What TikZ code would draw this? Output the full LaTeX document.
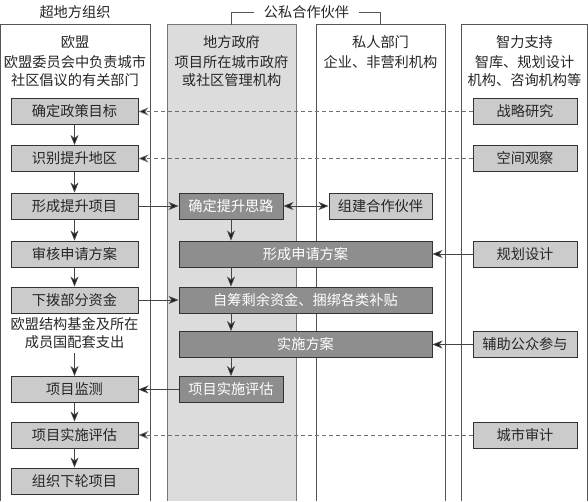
\documentclass[tikz,border=0pt]{standalone}
\usepackage{fontspec}
\setmainfont{Noto Sans CJK SC}
\usetikzlibrary{arrows.meta}
\definecolor{colborder}{HTML}{555555}
\definecolor{colfill}{HTML}{DCDCDC}
\definecolor{lightbox}{HTML}{CBCBCB}
\definecolor{darkbox}{HTML}{8E8E8E}
\definecolor{boxline}{HTML}{333333}
\definecolor{arrline}{HTML}{444444}
\definecolor{dashline}{HTML}{707070}
\begin{document}
\begin{tikzpicture}[x=1pt,y=-1pt,
  every node/.style={font=\fontsize{14.2}{18}\selectfont, text=black!85},
  lbox/.style={draw=boxline, line width=0.9pt, fill=lightbox, minimum height=26pt, inner sep=0pt, anchor=center},
  dbox/.style={draw=boxline, line width=0.9pt, fill=darkbox, minimum height=26pt, inner sep=0pt, anchor=center, text=white},
  colframe/.style={draw=colborder, line width=0.9pt},
  arr/.style={draw=arrline, line width=0.8pt, -{Stealth[length=10pt,width=8pt,inset=3pt,fill=black!90]}},
  darrow/.style={draw=arrline, line width=0.8pt, {Stealth[length=10pt,width=8pt,inset=3pt,fill=black!90]}-{Stealth[length=10pt,width=8pt,inset=3pt,fill=black!90]}},
  dashedarr/.style={draw=dashline, line width=0.8pt, dash pattern=on 4pt off 3pt, -{Stealth[length=10pt,width=8pt,inset=3pt,fill=black!90]}},
  headtxt/.style={align=center, inner sep=0pt}
]
\useasboundingbox (0,0) rectangle (588,501);
\fill[white] (0,0) rectangle (588,501);

% columns
\draw[colframe] (0.5,501) -- (0.5,24.5) -- (150,24.5) -- (150,501);
\draw[colframe, fill=colfill, draw=colborder!80] (167,501) -- (167,24.5) -- (296,24.5) -- (296,501);
\draw[colframe] (316,501) -- (316,24.5) -- (445,24.5) -- (445,501);
\draw[colframe] (461,501) -- (461,24.5) -- (587.5,24.5) -- (587.5,501);

% titles
\node[headtxt] (ttl1) at (75,12) {超地方组织};
\node[headtxt] (ttl2) at (306.5,12) {公私合作伙伴};
\coordinate (brL) at (231.5,24.5);
\coordinate (brR) at (380.5,24.5);
\draw[colframe] (brL) -- (brL |- ttl2) -- ([xshift=-10pt]ttl2.west);
\draw[colframe] ([xshift=10pt]ttl2.east) -- (brR |- ttl2) -- (brR);

% headers
\node[headtxt] (h1a) at (75,42) {欧盟};
\node[headtxt] (h1b) at (75,71) {欧盟委员会中负责城市\\社区倡议的有关部门};
\node[headtxt] (h2a) at (231.5,42) {地方政府};
\node[headtxt] (h2b) at (231.5,71) {项目所在城市政府\\或社区管理机构};
\node[headtxt] (h3a) at (380.5,42) {私人部门};
\node[headtxt] (h3b) at (380.5,62) {企业、非营利机构};
\node[headtxt] (h4a) at (524.5,42) {智力支持};
\node[headtxt] (h4b) at (524.5,71) {智库、规划设计\\机构、咨询机构等};

% column 1 boxes
\node[lbox, minimum width=127pt] (p1) at (74.5,111.5) {确定政策目标};
\node[lbox, minimum width=127pt] (p2) at (74.5,158.5) {识别提升地区};
\node[lbox, minimum width=127pt] (p3) at (74.5,206) {形成提升项目};
\node[lbox, minimum width=127pt] (p4) at (74.5,254) {审核申请方案};
\node[lbox, minimum width=127pt] (p5) at (74.5,300) {下拨部分资金};
\node[headtxt] (note) at (74.5,333.5) {欧盟结构基金及所在\\成员国配套支出};
\node[lbox, minimum width=127pt] (p6) at (74.5,389.5) {项目监测};
\node[lbox, minimum width=127pt] (p7) at (74.5,435) {项目实施评估};
\node[lbox, minimum width=127pt] (p8) at (74.5,481) {组织下轮项目};

% column 2 boxes
\node[dbox, minimum width=104pt] (g1) at (231,206) {确定提升思路};
\node[dbox, minimum width=253pt] (g2) at (305.5,254) {形成申请方案};
\node[dbox, minimum width=253pt] (g3) at (305.5,300) {自筹剩余资金、捆绑各类补贴};
\node[dbox, minimum width=253pt] (g4) at (305.5,344.5) {实施方案};
\node[dbox, minimum width=104pt] (g5) at (231,389.5) {项目实施评估};

% column 3 box
\node[lbox, minimum width=103pt] (c1) at (380.5,206) {组建合作伙伴};

% column 4 boxes
\node[lbox, minimum width=104pt] (t1) at (525,111.5) {战略研究};
\node[lbox, minimum width=104pt] (t2) at (525,158.5) {空间观察};
\node[lbox, minimum width=104pt] (t3) at (525,254) {规划设计};
\node[lbox, minimum width=104pt] (t4) at (525,344.5) {辅助公众参与};
\node[lbox, minimum width=104pt] (t5) at (525,435) {城市审计};

% column 1 chain
\draw[arr] (p1) -- (p2);
\draw[arr] (p2) -- (p3);
\draw[arr] (p3) -- (p4);
\draw[arr] (p4) -- (p5);
\draw[arr] (note.south |- 0,353) -- (p6.north);
\draw[arr] (p6) -- (p7);
\draw[arr] (p7) -- (p8);

% column 2 chain
\draw[arr] (g1.south) -- (g1.south |- g2.north);
\draw[arr] (g2.south -| g1) -- (g3.north -| g1);
\draw[arr] (g3.south -| g1) -- (g4.north -| g1);
\draw[arr] (g4.south -| g5) -- (g5.north);

% horizontal links
\draw[dashedarr] (t1.west) -- (p1.east);
\draw[dashedarr] (t2.west) -- (p2.east);
\draw[arr] (p3.east) -- (g1.west);
\draw[darrow] (g1.east) -- (c1.west);
\draw[arr] (t3.west) -- (g2.east);
\draw[arr] (p5.east) -- (g3.west);
\draw[arr] (t4.west) -- (g4.east);
\draw[arr] (g5.west) -- (g5.west -| p6.east);
\draw[dashedarr] (t5.west) -- (p7.east);
\end{tikzpicture}
\end{document}
